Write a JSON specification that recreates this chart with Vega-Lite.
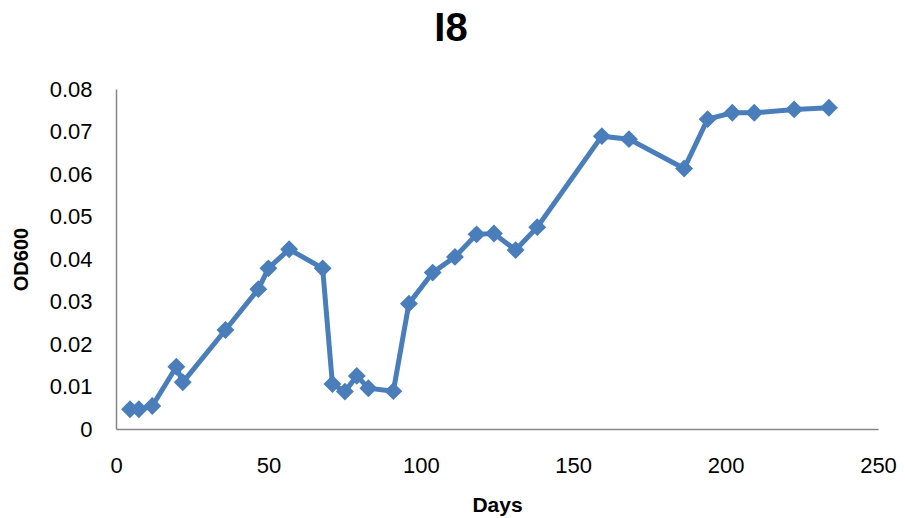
{
  "$schema": "https://vega.github.io/schema/vega-lite/v6.json",
  "width": 762,
  "height": 340,
  "autosize": {"type": "none"},
  "padding": {"left": 116, "top": 89, "right": 27, "bottom": 89},
  "background": "white",
  "config": {
    "view": {"stroke": null},
    "font": "Liberation Sans"
  },
  "title": {
    "text": "I8",
    "fontSize": 40,
    "fontWeight": "bold",
    "font": "Liberation Sans",
    "color": "#000000",
    "anchor": "middle",
    "dx": -46,
    "dy": 38,
    "offset": 35,
    "baseline": "alphabetic"
  },
  "data": {
    "values": [
      {"day": 4.6, "od": 0.00464},
      {"day": 7.5, "od": 0.00464},
      {"day": 11.9, "od": 0.00541},
      {"day": 19.8, "od": 0.01466},
      {"day": 21.9, "od": 0.01099},
      {"day": 35.9, "od": 0.0233},
      {"day": 46.7, "od": 0.0329},
      {"day": 50.0, "od": 0.0378},
      {"day": 56.8, "od": 0.0423},
      {"day": 67.8, "od": 0.0378},
      {"day": 71.0, "od": 0.0106},
      {"day": 75.1, "od": 0.0088},
      {"day": 79.0, "od": 0.0125},
      {"day": 82.8, "od": 0.0096},
      {"day": 91.0, "od": 0.0089},
      {"day": 96.1, "od": 0.0295},
      {"day": 103.9, "od": 0.0368},
      {"day": 111.2, "od": 0.0405},
      {"day": 118.3, "od": 0.0458},
      {"day": 124.0, "od": 0.046},
      {"day": 131.1, "od": 0.0421},
      {"day": 138.2, "od": 0.0475},
      {"day": 159.4, "od": 0.0689},
      {"day": 168.3, "od": 0.0682},
      {"day": 186.4, "od": 0.0613},
      {"day": 194.1, "od": 0.0729},
      {"day": 202.2, "od": 0.0744},
      {"day": 209.4, "od": 0.0744},
      {"day": 222.5, "od": 0.0752},
      {"day": 233.9, "od": 0.0756}
    ]
  },
  "encoding": {
    "x": {
      "field": "day",
      "type": "quantitative",
      "scale": {"domain": [0, 250], "nice": false, "zero": false},
      "axis": {
        "title": "Days",
        "values": [0, 50, 100, 150, 200, 250],
        "grid": false,
        "ticks": false,
        "domainColor": "#868686",
        "domainWidth": 1.5,
        "labelFontSize": 22,
        "labelColor": "#000000",
        "labelPadding": 26,
        "labelFlush": false,
        "titleFontSize": 21,
        "titleFontWeight": "bold",
        "titleColor": "#000000",
        "titleBaseline": "middle",
        "titleY": 76
      }
    },
    "y": {
      "field": "od",
      "type": "quantitative",
      "scale": {"domain": [0, 0.08], "nice": false, "zero": true},
      "axis": {
        "title": "OD600",
        "values": [0, 0.01, 0.02, 0.03, 0.04, 0.05, 0.06, 0.07, 0.08],
        "labelExpr": "datum.value == 0 ? '0' : format(datum.value, '.2f')",
        "grid": false,
        "ticks": false,
        "domainColor": "#868686",
        "domainWidth": 1.5,
        "labelFontSize": 22,
        "labelColor": "#000000",
        "labelPadding": 24,
        "labelFlush": false,
        "titleFontSize": 20,
        "titleFontWeight": "bold",
        "titleColor": "#000000",
        "titleBaseline": "middle",
        "titleX": -95
      }
    }
  },
  "layer": [
    {
      "mark": {"type": "line", "color": "#4a7ebb", "strokeWidth": 5}
    },
    {
      "mark": {"type": "point", "shape": "diamond", "filled": true, "opacity": 1, "color": "#4a7ebb", "size": 320}
    }
  ]
}
